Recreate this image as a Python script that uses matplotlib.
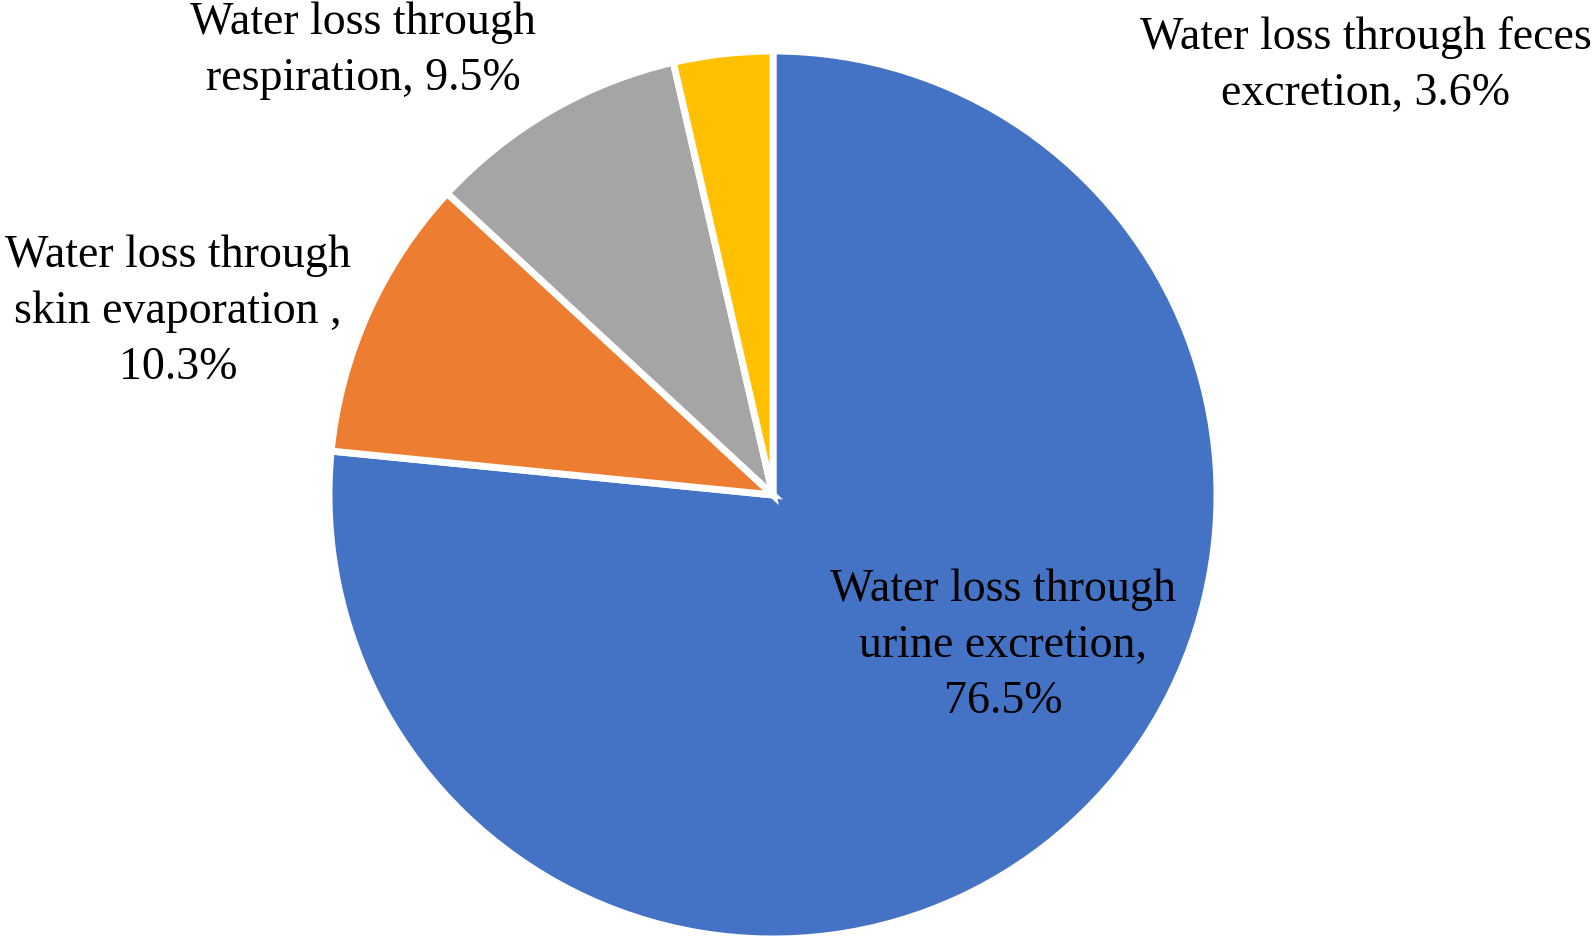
import matplotlib
matplotlib.use("Agg")
from matplotlib import pyplot as plt

plt.rcParams['font.family'] = ['Liberation Serif', 'DejaVu Serif']

labels = ["Water loss through\nurine excretion,\n76.5%",
          "Water loss through\nskin evaporation ,\n10.3%",
          "Water loss through\nrespiration, 9.5%",
          "Water loss through feces\nexcretion, 3.6%"]
values = [76.5, 10.3, 9.5, 3.6]
colors = ["#4472C4", "#ED7D31", "#A5A5A5", "#FFC000"]

W, H = 1596, 936
cx, cy, R = 773, 495, 444

fig = plt.figure(figsize=(W / 100, H / 100), dpi=100)
ax = fig.add_axes([0, 0, 1, 1])
ax.pie(values, colors=colors, startangle=90, counterclock=False,
       wedgeprops=dict(edgecolor="white", linewidth=5))
ax.set_aspect('auto')
ax.set_xlim(-cx / R, (W - cx) / R)
ax.set_ylim(-(H - cy) / R, cy / R)
ax.axis('off')

# label centres in pixel coords (x, y of middle of text block)
label_pos = [(1003, 646), (178, 312), (363, 51), (1366, 66)]
for txt, (px, py) in zip(labels, label_pos):
    fig.text(px / W, 1 - py / H, txt, ha='center', va='center',
             fontsize=33, linespacing=1.41, color='black')

fig.savefig("out.png", dpi=100)
